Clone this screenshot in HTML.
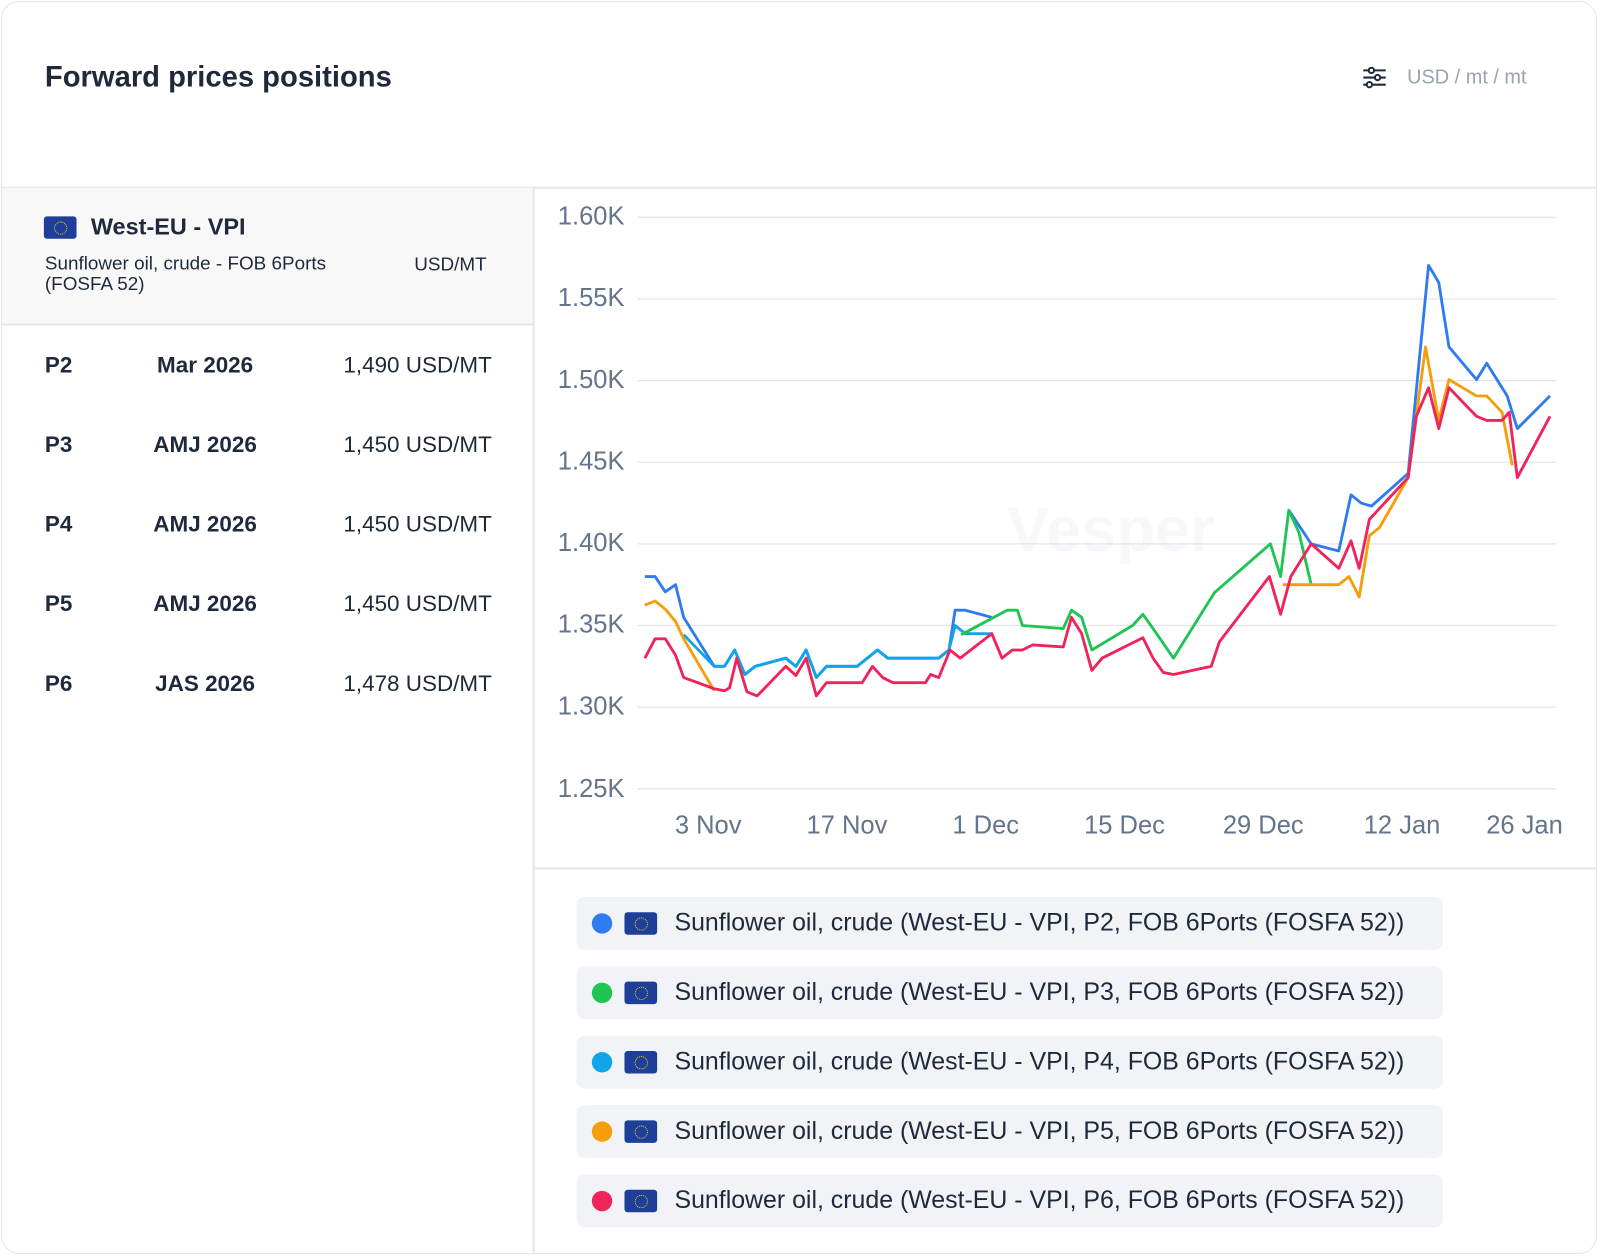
<!DOCTYPE html>
<html><head><meta charset="utf-8"><style>
html,body{margin:0;padding:0;background:#fff;width:1600px;height:1257px;overflow:hidden}
#w{position:absolute;left:0;top:0;width:1568px;height:1232px;transform:scale(1.020408);transform-origin:0 0;font-family:"Liberation Sans",sans-serif;color:#1e293b}
.card{position:absolute;left:1px;top:1px;width:1564px;height:1228px;border:1.5px solid #e3e6ea;border-radius:18px;box-sizing:border-box;overflow:hidden}
.abs{position:absolute;white-space:nowrap}
.flag{position:absolute;width:32px;height:22px;background:#1d3f9a;border-radius:3px}
.flag:after{content:"";position:absolute;left:10px;top:5px;width:11px;height:11px;border:1.3px dotted #f5d000;border-radius:50%}
.row{position:absolute;left:42px;width:438px;font-size:22px;height:30px;white-space:nowrap}
.row b{position:absolute;left:0}
.row .m{position:absolute;left:0;width:314px;text-align:center;font-weight:bold}
.row .v{position:absolute;right:0}
.leg{position:absolute;left:563px;width:849px;height:52px;background:#f1f3f6;border-radius:8px;font-size:24.4px;white-space:nowrap}
.leg .d{position:absolute;left:15px;top:16px;width:20px;height:20px;border-radius:50%}
.leg .flag{left:47px;top:15px}
.leg span{position:absolute;left:96px;top:12px;color:#1e293b}
.yl{position:absolute;right:952px;font-size:25px;color:#64748b;white-space:nowrap}
.xl{position:absolute;top:793px;font-size:25px;color:#64748b;transform:translateX(-50%);white-space:nowrap}
</style></head><body><div id="w">
<div class="card">
<div class="abs" style="left:42px;top:58px;font-size:28.6px;font-weight:bold;color:#1e293b">Forward prices positions</div>
<svg class="abs" style="left:1333px;top:63px" width="24" height="22" viewBox="0 0 24 22"><g stroke="#1e293b" stroke-width="2" fill="#fff"><line x1="1" y1="4" x2="23" y2="4"/><line x1="1" y1="11" x2="23" y2="11"/><line x1="1" y1="18" x2="23" y2="18"/><circle cx="9" cy="4" r="2.6"/><circle cx="15" cy="11" r="2.6"/><circle cx="7" cy="18" r="2.6"/></g></svg>
<div class="abs" style="left:1377px;top:63px;font-size:19.5px;color:#9aa3af">USD / mt / mt</div>
<div class="abs" style="left:0;top:181px;width:1566px;height:1.5px;background:#e3e6ea"></div>
<div class="abs" style="left:0;top:182px;width:521px;height:133px;background:#f8f8f9"></div>
<div class="abs" style="left:0;top:315px;width:521px;height:1.5px;background:#e3e6ea"></div>
<div class="abs" style="left:520px;top:182px;width:1.5px;height:1050px;background:#e3e6ea"></div>
<div class="abs" style="left:521px;top:848px;width:1050px;height:1.5px;background:#e3e6ea"></div>
<div class="flag" style="left:41px;top:210px"></div>
<div class="abs" style="left:87px;top:207px;font-size:23px;font-weight:bold">West-EU - VPI</div>
<div class="abs" style="left:42px;top:246px;font-size:18.5px;line-height:20px;width:310px;white-space:normal">Sunflower oil, crude - FOB 6Ports (FOSFA 52)</div>
<div class="abs" style="left:404px;top:246px;font-size:18.5px">USD/MT</div>
<div class="row" style="top:343px"><b>P2</b><span class="m">Mar 2026</span><span class="v">1,490 USD/MT</span></div>
<div class="row" style="top:421px"><b>P3</b><span class="m">AMJ 2026</span><span class="v">1,450 USD/MT</span></div>
<div class="row" style="top:499px"><b>P4</b><span class="m">AMJ 2026</span><span class="v">1,450 USD/MT</span></div>
<div class="row" style="top:577px"><b>P5</b><span class="m">AMJ 2026</span><span class="v">1,450 USD/MT</span></div>
<div class="row" style="top:655px"><b>P6</b><span class="m">JAS 2026</span><span class="v">1,478 USD/MT</span></div>

<div class="yl" style="top:196px">1.60K</div>
<div class="yl" style="top:276px">1.55K</div>
<div class="yl" style="top:356px">1.50K</div>
<div class="yl" style="top:436px">1.45K</div>
<div class="yl" style="top:516px">1.40K</div>
<div class="yl" style="top:596px">1.35K</div>
<div class="yl" style="top:676px">1.30K</div>
<div class="yl" style="top:757px">1.25K</div>
<div class="xl" style="left:692px">3 Nov</div>
<div class="xl" style="left:828px">17 Nov</div>
<div class="xl" style="left:964px">1 Dec</div>
<div class="xl" style="left:1100px">15 Dec</div>
<div class="xl" style="left:1236px">29 Dec</div>
<div class="xl" style="left:1372px">12 Jan</div>
<div class="xl" style="left:1492px">26 Jan</div>
<div class="abs" style="left:985px;top:482px;font-size:62px;font-weight:bold;color:#f7f8f9">Vesper</div>
<svg class="abs" style="left:0;top:0" width="1566" height="1232" fill="none" stroke-linejoin="round" stroke-width="2.8">
<g stroke="#e2e6ec" stroke-width="1.3">
<line x1="623" y1="211" x2="1523" y2="211"/><line x1="623" y1="291" x2="1523" y2="291"/><line x1="623" y1="371" x2="1523" y2="371"/><line x1="623" y1="451" x2="1523" y2="451"/><line x1="623" y1="531" x2="1523" y2="531"/><line x1="623" y1="611" x2="1523" y2="611"/><line x1="623" y1="691" x2="1523" y2="691"/><line x1="623" y1="771" x2="1523" y2="771"/>
</g>
<polyline stroke="#2f7bf0" points="630,563 640,563 650,578 660,571 668,603 698,651 708,651 718,635 728,659 738,651 768,643 778,651 788,635 798,662 808,651 838,651 848,643 858,635 868,643 918,643 928,635 934,596 944,596 970,603"/>
<polyline stroke="#0ea5e9" points="668,620 698,651 708,651 718,635 728,659 738,651 768,643 778,651 788,635 798,662 808,651 838,651 848,643 858,635 868,643 918,643 928,635 934,611 944,619 970,619"/>
<polyline stroke="#2f7bf0" points="1261,498 1283,531 1310,538 1322,483 1332,491 1342,494 1378,462 1398,258 1408,275 1418,338 1445,370 1455,354 1475,386 1485,418 1517,386"/>
<polyline stroke="#1fc552" points="940,620 985,596 995,596 1000,611 1040,614 1048,596 1058,603 1068,635 1108,611 1118,600 1128,614 1148,643 1188,579 1243,531 1253,563 1261,498 1271,520 1283,571"/>
<polyline stroke="#f59e0b" points="630,591 640,587 650,595 660,607 668,624 698,675"/>
<polyline stroke="#f59e0b" points="1255,571 1310,571 1320,563 1330,583 1340,523 1350,515 1378,466 1395,338 1408,410 1418,370 1445,386 1455,386 1470,402 1480,454"/>
<polyline stroke="#f0245a" points="630,643 640,624 650,624 660,640 668,662 698,673 708,675 713,672 720,643 730,676 740,680 768,651 778,660 788,643 798,680 808,667 843,667 853,651 863,662 873,667 905,667 910,659 918,662 929,635 939,643 970,619 980,643 990,635 1000,635 1010,630 1040,632 1048,603 1058,619 1068,655 1078,643 1118,623 1128,643 1138,657 1148,659 1185,651 1193,627 1242,563 1253,600 1263,563 1283,531 1310,555 1322,528 1330,555 1340,507 1378,466 1386,406 1398,378 1408,418 1418,378 1445,406 1455,410 1470,410 1477,402 1485,466 1517,406"/>
</svg>
<div class="leg" style="top:877px"><i class="d" style="background:#2f7bf0"></i><i class="flag"></i><span>Sunflower oil, crude (West-EU - VPI, P2, FOB 6Ports (FOSFA 52))</span></div>
<div class="leg" style="top:945px"><i class="d" style="background:#1fc552"></i><i class="flag"></i><span>Sunflower oil, crude (West-EU - VPI, P3, FOB 6Ports (FOSFA 52))</span></div>
<div class="leg" style="top:1013px"><i class="d" style="background:#0ea5e9"></i><i class="flag"></i><span>Sunflower oil, crude (West-EU - VPI, P4, FOB 6Ports (FOSFA 52))</span></div>
<div class="leg" style="top:1081px"><i class="d" style="background:#f59e0b"></i><i class="flag"></i><span>Sunflower oil, crude (West-EU - VPI, P5, FOB 6Ports (FOSFA 52))</span></div>
<div class="leg" style="top:1149px"><i class="d" style="background:#f0245a"></i><i class="flag"></i><span>Sunflower oil, crude (West-EU - VPI, P6, FOB 6Ports (FOSFA 52))</span></div>
</div>
</div></body></html>
